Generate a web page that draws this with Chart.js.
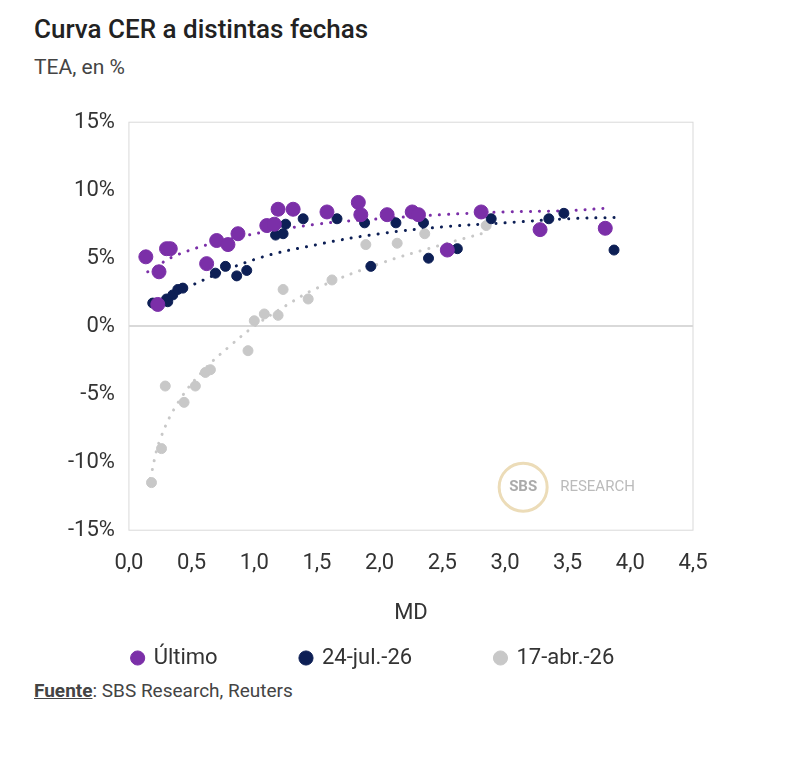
<!DOCTYPE html>
<html>
<head>
<meta charset="utf-8">
<script src="https://cdn.jsdelivr.net/npm/chart.js@4/dist/chart.umd.min.js"></script>
<style>
  body { margin: 0; background: #fff; font-family: Roboto, sans-serif; color: #333; }
  #title { position: absolute; left: 34px; top: 14px; font-size: 26px; font-weight: 500; color: #222; }
  #sub { position: absolute; left: 34px; top: 55px; font-size: 21px; color: #444; }
  #src { position: absolute; left: 34px; top: 679px; font-size: 19px; color: #444; }
  #wrap { position: absolute; left: 0; top: 95px; width: 800px; height: 584px; }
</style>
</head>
<body>
<div id="title">Curva CER a distintas fechas</div>
<div id="sub">TEA, en %</div>
<div id="wrap"><canvas id="c"></canvas></div>
<div id="src"><b><u>Fuente</u></b>: SBS Research, Reuters</div>
<script>
// Último
const ultimoX = [0.135, 0.24, 0.3, 0.33, 0.23, 0.62, 0.70, 0.79, 0.87, 1.10, 1.16, 1.19, 1.31, 1.58, 1.83, 1.85, 2.06, 2.26, 2.31, 2.54, 2.81, 3.28, 3.80];
const ultimoY = [5.1, 4.0, 5.7, 5.7, 1.6, 4.6, 6.3, 6.0, 6.8, 7.4, 7.5, 8.6, 8.6, 8.4, 9.1, 8.2, 8.2, 8.4, 8.2, 5.6, 8.4, 7.1, 7.2];
// 24-jul.-26
const julX = [0.19, 0.30, 0.35, 0.39, 0.43, 0.31, 0.69, 0.77, 0.86, 0.94, 1.17, 1.23, 1.25, 1.39, 1.66, 1.88, 1.93, 2.13, 2.35, 2.39, 2.62, 2.89, 3.35, 3.47, 3.87];
const julY = [1.7, 2.0, 2.3, 2.7, 2.8, 1.8, 3.9, 4.4, 3.7, 4.1, 6.7, 6.8, 7.5, 7.9, 7.9, 7.6, 4.4, 7.6, 7.6, 5.0, 5.7, 7.9, 7.9, 8.3, 5.6];
// 17-abr.-26
const abrX = [0.18, 0.26, 0.29, 0.44, 0.53, 0.61, 0.65, 0.95, 1.0, 1.08, 1.19, 1.23, 1.43, 1.62, 1.89, 2.14, 2.36, 2.85];
const abrY = [-11.5, -9.0, -4.4, -5.6, -4.4, -3.4, -3.2, -1.8, 0.4, 0.9, 0.8, 2.7, 2.0, 3.4, 6.0, 6.1, 6.8, 7.4];

// tendencias
const trUltX = [0.15, 0.4, 0.9, 1.5, 2.0, 2.5, 3.0, 3.5, 3.85];
const trUltY = [4.0, 5.3, 6.6, 7.5, 7.9, 8.2, 8.4, 8.5, 8.7];
const trJulX = [0.2, 0.5, 1.0, 1.5, 2.0, 2.5, 3.0, 3.5, 3.9];
const trJulY = [1.6, 3.0, 4.9, 6.0, 6.8, 7.3, 7.6, 7.9, 8.0];
const trAbrX = [0.17, 0.25, 0.4, 0.6, 0.8, 1.0, 1.25, 1.5, 2.0, 2.5, 2.85];
const trAbrY = [-11.2, -8.3, -5.5, -3.2, -1.5, 0.0, 1.5, 2.8, 4.6, 6.0, 6.9];

const xTicks = ['0,0', '0,5', '1,0', '1,5', '2,0', '2,5', '3,0', '3,5', '4,0', '4,5'];

const PURPLE = '#7b2fa8', NAVY = '#0d1f55', GRAY = '#c8c8c8';
const pts = (xs, ys) => xs.map((x, i) => ({ x: x, y: ys[i] }));

const scatter = (label, xs, ys, color, r) => ({
  type: 'scatter', label, data: pts(xs, ys), backgroundColor: color, borderColor: color,
  pointRadius: r, pointHoverRadius: r, order: 1
});
const trend = (xs, ys, color) => ({
  type: 'line', label: '', data: pts(xs, ys), borderColor: color, borderWidth: 3,
  borderDash: [0.1, 9], borderCapStyle: 'round', pointRadius: 0, tension: 0.4, fill: false, order: 2
});

const frame = {
  id: 'frame',
  beforeDatasetsDraw(chart) {
    const { ctx, chartArea: a } = chart;
    ctx.save();
    ctx.strokeStyle = '#d9d9d9';
    ctx.lineWidth = 1;
    ctx.strokeRect(a.left, a.top, a.right - a.left, a.bottom - a.top);
    // marca de agua
    const cx = a.left + 0.745 * (a.right - a.left) - 26, cy = a.bottom - 43;
    ctx.strokeStyle = '#ecdcb8';
    ctx.lineWidth = 3;
    ctx.beginPath();
    ctx.arc(cx, cy, 24, 0, Math.PI * 2);
    ctx.stroke();
    ctx.fillStyle = '#aaa';
    ctx.font = 'bold 15px Roboto';
    ctx.textAlign = 'center';
    ctx.textBaseline = 'middle';
    ctx.fillText('SBS', cx, cy);
    ctx.font = '15px Roboto';
    ctx.fillStyle = '#bbb';
    ctx.textAlign = 'left';
    ctx.fillText('RESEARCH', cx + 37, cy);
    ctx.restore();
  }
};

new Chart(document.getElementById('c'), {
  data: {
    datasets: [
      scatter('Último', ultimoX, ultimoY, PURPLE, 7),
      scatter('24-jul.-26', julX, julY, NAVY, 5),
      scatter('17-abr.-26', abrX, abrY, GRAY, 5),
      trend(trUltX, trUltY, PURPLE),
      trend(trJulX, trJulY, NAVY),
      trend(trAbrX, trAbrY, GRAY)
    ]
  },
  options: {
    responsive: true,
    maintainAspectRatio: false,
    animation: false,
    layout: { padding: { top: 0, left: 54, right: 107, bottom: 0 } },
    scales: {
      x: {
        type: 'linear', min: 0, max: 4.5,
        ticks: { stepSize: 0.5, color: '#333', padding: 12, font: { size: 22, family: 'Roboto' },
                 callback: (v, i) => xTicks[i] },
        grid: { display: false }, border: { display: false },
        title: { display: true, text: 'MD', color: '#333', font: { size: 22, family: 'Roboto' },
                 padding: { top: 12, bottom: 4 } }
      },
      y: {
        min: -15, max: 15,
        ticks: { stepSize: 5, color: '#333', padding: 14, font: { size: 22, family: 'Roboto' },
                 callback: v => v + '%' },
        grid: { color: c => c.tick.value === 0 ? '#d9d9d9' : 'transparent', drawTicks: false, lineWidth: 2 },
        border: { display: false }
      }
    },
    plugins: {
      tooltip: { enabled: false },
      legend: {
        position: 'bottom',
        labels: {
          filter: item => item.text !== '',
          usePointStyle: true, pointStyle: 'circle', boxWidth: 10, boxHeight: 10,
          padding: 16, color: '#333', font: { size: 22, family: 'Roboto' },
          generateLabels: chart => Chart.defaults.plugins.legend.labels.generateLabels(chart)
            .map(l => (l.text && l.text !== '17-abr.-26') ? Object.assign(l, { text: l.text + '\u2003\u2003\u2003' }) : l)
        }
      }
    }
  },
  plugins: [frame]
});
</script>
</body>
</html>
